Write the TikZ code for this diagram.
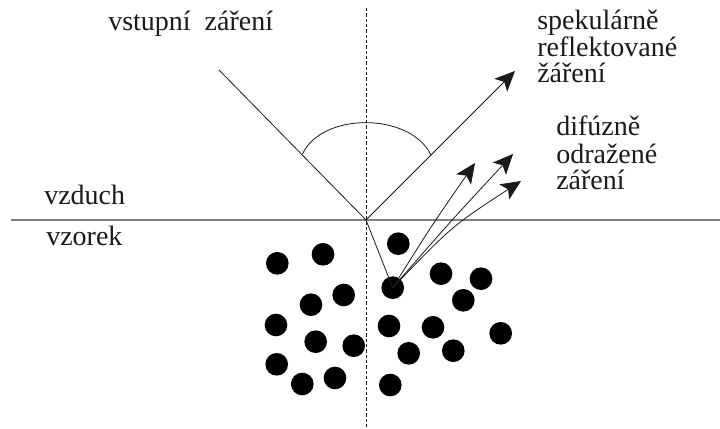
\documentclass[tikz,border=0pt]{standalone}
\usepackage{fontspec}
\setmainfont{Liberation Serif}
\usetikzlibrary{arrows.meta}
\definecolor{ink}{HTML}{1A1A1A}
\tikzset{
 lbl/.style={inner sep=0pt,font=\fontsize{21}{21}\selectfont,text=ink},
 ray/.style={line width=0.6pt,draw=ink},
 arr/.style={ray,-{Stealth[length=15pt,width=13.5pt,inset=3.5pt]}},
 dot/.style={circle,fill=black,minimum size=17pt,inner sep=0pt,draw=none},
}
\begin{document}
\begin{tikzpicture}[x=0.75pt,y=-0.75pt]
\useasboundingbox (0,0) rectangle (720,428);
\fill[white] (0,0) rectangle (720,428);
\coordinate (top) at (366,8);
\coordinate (bot) at (366,428);
\coordinate (L) at (11,220);
\coordinate (R) at (720,220);
\coordinate (O) at (366,220);
\coordinate (S) at (219,70);
\coordinate (E) at (515,71);
\coordinate (a1) at (475,163);
\coordinate (a2) at (513,154);
\coordinate (a3) at (521,181);
\coordinate (h1) at (302.5,154);
\coordinate (h2) at (431,155);
\draw[line width=0.6pt,dash pattern=on 2.6pt off 1.4pt,draw=ink] (top) -- (bot);
\draw[line width=1.6pt,draw=black!50] (L) -- (R);
\draw[ray] (S) -- (O);
\draw[arr] (O) -- (E);
\draw[ray] (h1) .. controls (322,112) and (410,112) .. (h2);
\foreach \n/\x/\y in {d1/398.3/243.7,d2/392.7/287.7,d3/277.3/263.3,d4/323/254.3,d5/441/273.7,d6/481/278.7,d7/463.3/300.3,d8/343.7/295,d9/311/304.7,d10/276/325,d11/315.7/341.7,d12/353.7/345.7,d13/276.7/364.3,d14/302.3/384,d15/335/378,d16/389/326,d17/433/327.3,d18/408.7/353.3,d19/453.3/350.7,d20/500.7/333.3,d21/390.3/385}
  \node[dot] (\n) at (\x,\y) {};
\draw[ray] (O) -- (d2.center);
\draw[arr] (d2.center) .. controls (432,225) .. (a1);
\draw[arr] (d2.center) .. controls (450,222) .. (a2);
\draw[arr] (d2.center) .. controls (452,226) .. (a3);
\node[lbl,anchor=base west] (t1) at (108,31) {vstupní\ \ záření};
\node[lbl,anchor=base west] (t2a) at (537,30) {spekulárně};
\node[lbl,anchor=base west] (t2b) at (537,56) {reflektované};
\node[lbl,anchor=base west] (t2c) at (537,83) {žáření};
\node[lbl,anchor=base west] (t3a) at (556,135) {difúzně};
\node[lbl,anchor=base west] (t3b) at (556,163) {odražené};
\node[lbl,anchor=base west] (t3c) at (556,189) {záření};
\node[lbl,anchor=base west] (t4) at (44,204) {vzduch};
\node[lbl,anchor=base west] (t5) at (46,245) {vzorek};
\end{tikzpicture}
\end{document}
